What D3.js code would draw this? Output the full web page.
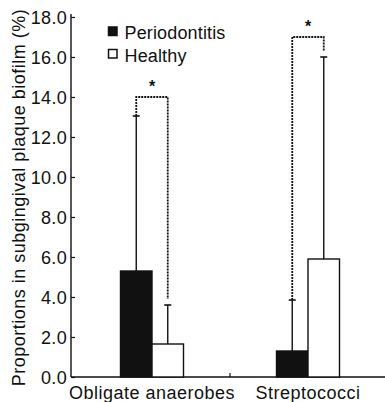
<!DOCTYPE html>
<html>
<head>
<meta charset="utf-8">
<script src="https://cdn.jsdelivr.net/npm/d3@7"></script>
<style>
  html, body { margin: 0; padding: 0; background: #fff; }
  svg text { font-family: "Liberation Sans", Arial, Helvetica, sans-serif; fill: #111; }
</style>
</head>
<body>
<svg id="chart" width="385" height="402"></svg>
<script>
// Proportions of two bacterial groups in subgingival plaque biofilm
const categories = ["Obligate anaerobes", "Streptococci"];
const groups = ["Periodontitis", "Healthy"];
const periodontitisMean = [5.3, 1.3];
const periodontitisSD = [7.75, 2.55];   // upper error bar length
const healthyMean = [1.65, 5.9];
const healthySD = [1.95, 10.1];
const bracketLevel = [14.0, 17.0];      // height of significance brackets
const yTicks = [0, 2, 4, 6, 8, 10, 12, 14, 16, 18];
const yTitle = "Proportions in subgingival plaque biofilm (%)";

const svg = d3.select("#chart");
const ink = "#111";

const y = d3.scaleLinear().domain([0, 18]).range([377, 17]);
const x = d3.scaleBand().domain(categories).range([74, 386]).padding(0);
const xSub = d3.scaleBand().domain(groups).range([0, 63]).padding(0);

const rows = categories.map((c, i) => ({
  cat: c,
  bars: [
    { g: "Periodontitis", v: periodontitisMean[i], e: periodontitisSD[i] },
    { g: "Healthy", v: healthyMean[i], e: healthySD[i] }
  ],
  bracket: bracketLevel[i]
}));

const groupLeft = c => x(c) + x.bandwidth() / 2 - 31.5;
const barCenter = (c, g) => groupLeft(c) + xSub(g) + xSub.bandwidth() / 2;

// Y axis with inward ticks
const yAxis = d3.axisLeft(y)
  .tickValues(yTicks)
  .tickFormat(d3.format(".1f"))
  .tickSizeInner(-4)
  .tickSizeOuter(0)
  .tickPadding(4);
const gy = svg.append("g").attr("transform", "translate(71,0)").call(yAxis);
gy.select(".domain").attr("stroke", ink).attr("stroke-width", 1.4)
  .attr("d", `M0,${y(18) - 3}V${y(0)}`);
gy.selectAll(".tick line").attr("stroke", ink).attr("stroke-width", 1.2);
gy.selectAll(".tick text")
  .attr("font-size", 18)
  .attr("letter-spacing", 0.3)
  .attr("fill", ink)
  .attr("dy", "0.34em");

// X axis baseline with a divider tick between categories
const gx = svg.append("g").attr("transform", `translate(0,${y(0)})`);
gx.append("line").attr("x1", 71).attr("x2", 385).attr("y1", 0).attr("y2", 0)
  .attr("stroke", ink).attr("stroke-width", 1.4);
gx.append("line")
  .attr("x1", x(categories[1])).attr("x2", x(categories[1]))
  .attr("y1", 0).attr("y2", -4)
  .attr("stroke", ink).attr("stroke-width", 1.2);
gx.selectAll("text.cat").data(categories).join("text")
  .attr("class", "cat")
  .attr("x", d => x(d) + x.bandwidth() / 2)
  .attr("y", 22)
  .attr("text-anchor", "middle")
  .attr("font-size", 18)
  .attr("letter-spacing", 0.5)
  .text(d => d);

// Y axis title
svg.append("text")
  .attr("transform", `translate(25,${(7 + 388) / 2}) rotate(-90)`)
  .attr("text-anchor", "middle")
  .attr("font-size", 18)
  .attr("letter-spacing", 0.5)
  .text(yTitle);

const plot = svg.append("g");

// Upper error bars (drawn first so the bars sit on top)
rows.forEach(r => {
  r.bars.forEach(b => {
    const cx = barCenter(r.cat, b.g);
    const top = y(b.v + b.e);
    plot.append("line").attr("x1", cx).attr("x2", cx)
      .attr("y1", y(b.v)).attr("y2", top)
      .attr("stroke", ink).attr("stroke-width", 1.4);
    plot.append("line").attr("x1", cx - 3.5).attr("x2", cx + 3.5)
      .attr("y1", top).attr("y2", top)
      .attr("stroke", ink).attr("stroke-width", 1.6);
  });
});

// Bars
rows.forEach(r => {
  plot.selectAll(null).data(r.bars).join("rect")
    .attr("x", d => groupLeft(r.cat) + xSub(d.g))
    .attr("y", d => y(d.v))
    .attr("width", xSub.bandwidth())
    .attr("height", d => y(0) - y(d.v))
    .attr("fill", d => d.g === "Periodontitis" ? ink : "#fff")
    .attr("stroke", ink)
    .attr("stroke-width", 1.4);
});

// Significance brackets (dotted) with asterisks
rows.forEach(r => {
  const [p, h] = r.bars;
  const xl = barCenter(r.cat, p.g);
  const xr = barCenter(r.cat, h.g);
  const yb = y(r.bracket);
  const yl = y(p.v + p.e);
  const yr = y(h.v + h.e + 0.3);
  plot.append("path")
    .attr("d", `M${xl},${yl}V${yb}H${xr}V${yr}`)
    .attr("fill", "none")
    .attr("stroke", ink)
    .attr("stroke-width", 1.8)
    .attr("stroke-dasharray", "2,1");
  plot.append("text")
    .attr("x", (xl + xr) / 2)
    .attr("y", yb - 5)
    .attr("text-anchor", "middle")
    .attr("font-size", 16)
    .attr("font-weight", "bold")
    .text("*");
});

// Legend
const legend = svg.append("g");
groups.forEach((g, i) => {
  const ly = 27 + i * 22.5;
  legend.append("rect")
    .attr("x", 108.5).attr("y", ly)
    .attr("width", 8.5).attr("height", 8.5)
    .attr("fill", g === "Periodontitis" ? ink : "#fff")
    .attr("stroke", ink).attr("stroke-width", 1.5);
  legend.append("text")
    .attr("x", 124.5).attr("y", ly + 12)
    .attr("font-size", 18)
    .attr("letter-spacing", 0.15)
    .text(g);
});
</script>
</body>
</html>
